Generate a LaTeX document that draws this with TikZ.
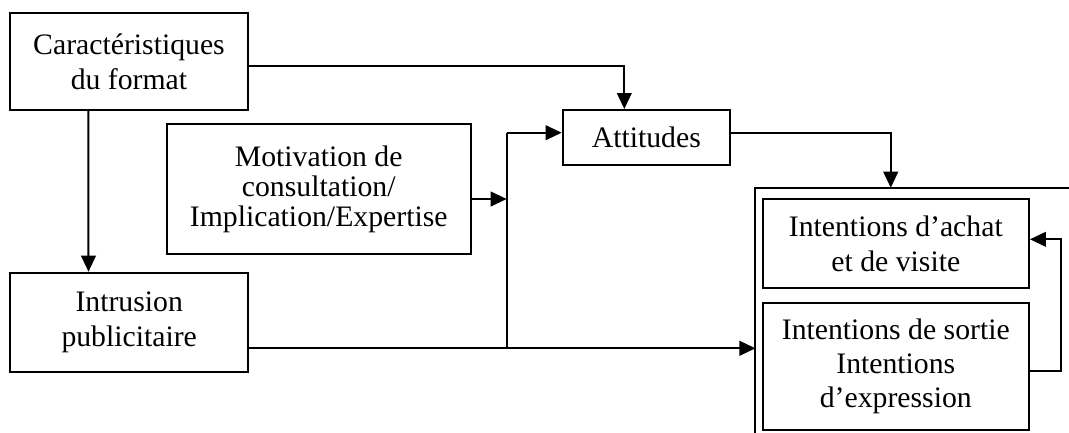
\documentclass[tikz,border=0pt]{standalone}
\usepackage{fontspec}
\setmainfont{Liberation Serif}
\usetikzlibrary{arrows.meta,calc}
\begin{document}
\begin{tikzpicture}[x=0.75pt,y=-0.75pt,
  box/.style={draw,line width=1.5pt,align=center,inner sep=0pt,font=\fontsize{22.3}{26}\selectfont},
  arr/.style={line width=1.5pt,-{Triangle[length=12pt,width=11pt]}},
  ln/.style={line width=1.5pt}]
\useasboundingbox (0,0) rectangle (1069,432);
\fill[white] (0,0) rectangle (1069,432);

\node[box,minimum width=178.5pt,minimum height=72.5pt] (caract) at (129,61.7) {Caractéristiques\\du format};
\node[box,minimum width=178.7pt,minimum height=74.7pt] (intrusion) at (129.2,322.5) {Intrusion\\publicitaire};
\node[box,minimum width=228pt,minimum height=97.5pt,font=\fontsize{22.3}{22.5}\selectfont] (motiv) at (318.7,189) {Motivation de\\consultation/\\Implication/Expertise};
\node[box,minimum width=125.5pt,minimum height=41.25pt] (attitudes) at (646.3,137.5) {Attitudes};
\node[box,minimum width=199.7pt,minimum height=66.3pt] (ach) at (895.8,243.5) {Intentions d’achat\\et de visite};
\node[box,minimum width=199.7pt,minimum height=95pt,font=\fontsize{22.3}{25.5}\selectfont] (sortie) at (895.8,366.7) {Intentions de sortie\\Intentions\\d’expression};
\node[minimum width=243.2pt,minimum height=192.75pt,inner sep=0pt] (outer) at (917.85,316.5) {};
\draw[ln] (outer.south west) -- (outer.north west) -- (outer.north east);

% connectors
\draw[arr] ($(caract.east)+(0,4)$) -| ($(attitudes.north)+(-22,0)$);
\draw[arr] ($(caract.south)+(-40.7,0)$) -- ($(intrusion.north)+(-40.7,0)$);

\coordinate (i1) at ($(intrusion.east)+(0,25.8)$);
\draw[arr] (i1) -- (i1 -| outer.west);
\coordinate (jb) at (506.7,348.3);
\coordinate (jt) at (506.7,132.7);
\draw[ln] (jb) -- (jt);
\draw[arr] (jt) -- (jt -| attitudes.west);
\coordinate (m1) at ($(motiv.east)+(0,10)$);
\draw[arr] (m1) -- (m1 -| jt);

\coordinate (a1) at ($(attitudes.east)+(0,-4.8)$);
\coordinate (o1) at ($(outer.north west)+(135.3,0)$);
\draw[arr] (a1) -| (o1);

\coordinate (f1) at ($(sortie.east)+(0,4.3)$);
\coordinate (f2) at ($(ach.east)+(0,-4.2)$);
\draw[arr] (f1) -- ++(31,0) |- (f2);
\end{tikzpicture}
\end{document}
